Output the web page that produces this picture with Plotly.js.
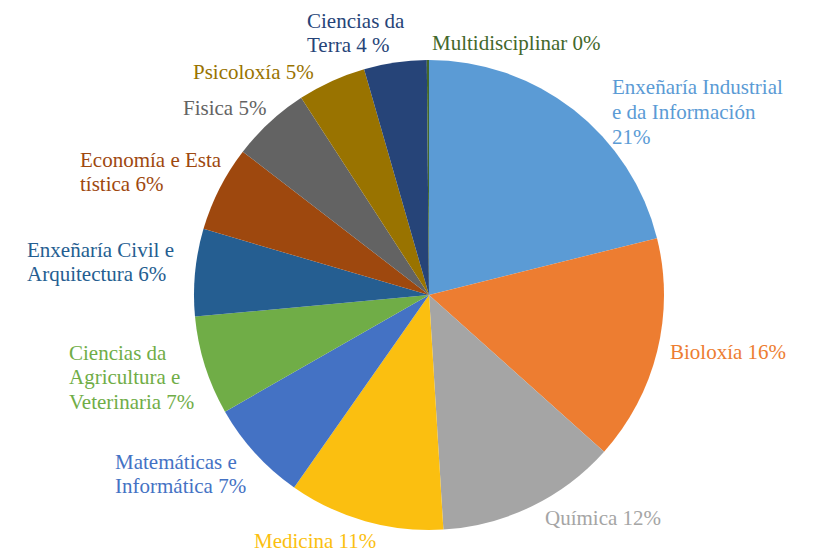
<!DOCTYPE html>
<html>
<head>
<meta charset="utf-8">
<script src="https://cdn.plot.ly/plotly-3.0.1.min.js"></script>
<style>html,body{margin:0;padding:0;background:#fff;}#chart{width:821px;height:553px;}</style>
</head>
<body>
<div id="chart"></div>
<script>
// ---- data ----
const categories = [
  "Enxeñaría Industrial e da Información",
  "Bioloxía",
  "Química",
  "Medicina",
  "Matemáticas e Informática",
  "Ciencias da Agricultura e Veterinaria",
  "Enxeñaría Civil e Arquitectura",
  "Economía e Estatística",
  "Fisica",
  "Psicoloxía",
  "Ciencias da Terra",
  "Multidisciplinar"
];
// shares (%)
const values = [21.1, 15.5, 12.4, 10.7, 7.0, 6.8, 6.0, 5.9, 5.4, 4.7, 4.3, 0.15];
// label text lines as printed on the chart
const labelLines = [
  ["Enxeñaría Industrial", "e da Información", "21%"],
  ["Bioloxía 16%"],
  ["Química 12%"],
  ["Medicina 11%"],
  ["Matemáticas e", "Informática 7%"],
  ["Ciencias da", "Agricultura e", "Veterinaria 7%"],
  ["Enxeñaría Civil e", "Arquitectura 6%"],
  ["Economía e Esta", "tística 6%"],
  ["Fisica 5%"],
  ["Psicoloxía 5%"],
  ["Ciencias da", "Terra 4 %"],
  ["Multidisciplinar 0%"]
];
const colors = ["#5B9BD5", "#ED7D31", "#A5A5A5", "#FBBF10", "#4472C4", "#70AD47",
                "#255E91", "#9E480E", "#636363", "#997300", "#264478", "#43682B"];

// ---- label placement (layout, pixel positions of each label block: left edge, vertical centre) ----
const labelPos = [
  [610, 112], [668, 352], [543, 518], [252, 541], [113, 474], [67, 377],
  [25, 262], [78, 172], [181, 108], [191, 72], [305, 33], [430, 43]
];
const M = { l: 194, r: 157, t: 60, b: 23 };
const PW = 821 - M.l - M.r, PH = 553 - M.t - M.b;
const LINE_H = 24.5;
const FONT = "Liberation Serif";

const annotations = [];
labelLines.forEach((lines, i) => {
  const [px, pyc] = labelPos[i];
  lines.forEach((ln, j) => {
    const py = pyc + (j - (lines.length - 1) / 2) * LINE_H;
    annotations.push({
      xref: "paper", yref: "paper",
      x: (px - M.l) / PW, y: (553 - M.b - py) / PH,
      xanchor: "left", yanchor: "middle",
      text: ln, showarrow: false, align: "left",
      font: { family: FONT, size: 21, color: colors[i] }
    });
  });
});

const data = [{
  type: "pie",
  labels: categories,
  values: values,
  textinfo: "none",
  sort: false,
  direction: "clockwise",
  rotation: 0,
  marker: { colors: colors, line: { width: 0 } },
  automargin: false,
  showlegend: false,
  hoverinfo: "none"
}];

const layout = {
  width: 821, height: 553,
  margin: M,
  paper_bgcolor: "#ffffff",
  showlegend: false,
  annotations: annotations
};

Plotly.newPlot("chart", data, layout, { displayModeBar: false, staticPlot: true });
</script>
</body>
</html>
